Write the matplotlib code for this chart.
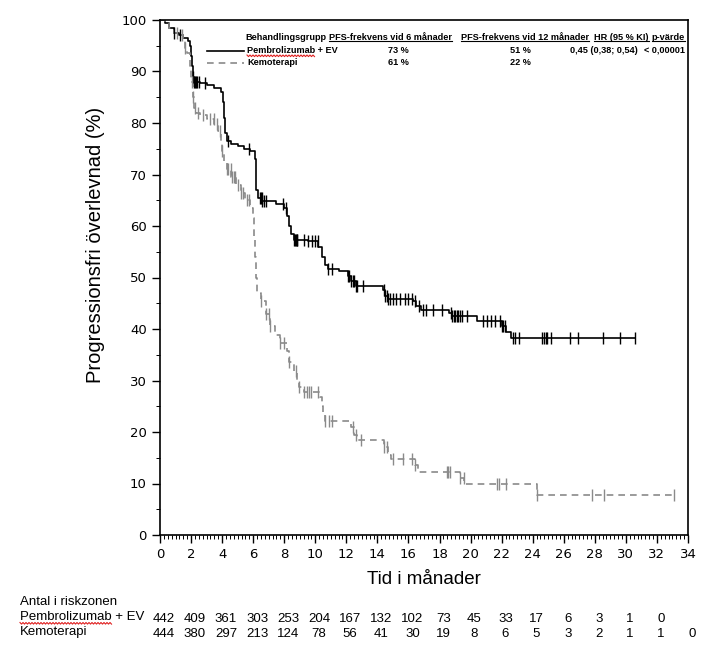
import numpy as np
import matplotlib
matplotlib.use("Agg")
import matplotlib.pyplot as plt
from matplotlib.ticker import MultipleLocator
from matplotlib.lines import Line2D
from matplotlib.transforms import blended_transform_factory

W, H = 717, 649

# Kaplan-Meier steps (time in months, PFS % after the step)
pem_t = [0, 0.3, 0.6, 0.9, 1.2, 1.5, 1.8, 1.95, 2.0, 2.05, 2.1, 2.2, 2.6, 3.0, 3.5, 3.9,
         4.05, 4.1, 4.2, 4.3, 4.6, 5.0, 5.4, 5.8, 6.1, 6.15, 6.2, 6.3, 6.6, 7.5, 8.0, 8.2,
         8.3, 8.45, 8.6, 9.5, 10.2, 10.4, 10.6, 10.8, 11.5, 12.1, 12.3, 12.6, 14.35, 14.5,
         14.7, 16.3, 16.5, 16.8, 18.6, 18.8, 20.4, 22.0, 22.3, 22.6, 30.6]
pem_s = [100, 99.5, 98.5, 97.5, 97, 96.5, 96, 95, 93, 91, 89, 88, 87.7, 87.3, 86.8, 86,
         84, 81, 78, 76.5, 76, 75.5, 75, 74.5, 73, 70, 67, 65.5, 64.8, 64.3, 63.5, 62,
         60, 58.5, 57.3, 57, 56, 54, 52.5, 51.6, 51.2, 50.2, 49.3, 48.3, 47.5, 46.5,
         45.8, 45.5, 44.5, 43.7, 43.2, 42.5, 41.6, 40.6, 39.5, 38.3, 38.3]

kem_t = [0, 0.3, 0.6, 0.9, 1.2, 1.45, 1.6, 1.75, 1.95, 2.0, 2.1, 2.2, 2.3, 2.6, 3.0, 3.5,
         3.75, 3.9, 4.0, 4.15, 4.3, 4.6, 4.9, 5.2, 5.5, 5.8, 6.0, 6.05, 6.1, 6.15, 6.25,
         6.5, 6.8, 7.1, 7.4, 7.7, 8.2, 8.3, 8.6, 8.8, 8.95, 9.3, 10.3, 10.4, 10.5, 10.6,
         12.3, 12.5, 12.7, 14.4, 14.7, 14.9, 16.4, 16.6, 19.3, 19.6, 24.3, 33.1]
kem_s = [100, 99.5, 98.5, 97.5, 97, 96, 94.5, 93.5, 91, 88, 85, 83, 82, 81.5, 80.7, 79.8,
         78.5, 76.5, 74.5, 72.5, 71, 69.5, 68, 66.5, 65, 63.5, 61.5, 58, 54, 50, 47,
         45.5, 43, 40.5, 38.8, 37.2, 35.8, 33.5, 31.8, 30, 28.7, 27.8, 26.8, 25, 23.5, 22.2,
         21, 19.5, 18.4, 17, 15.5, 14.8, 13.5, 12.3, 11, 9.9, 7.8, 7.8]

# censored observations (months)
pem_cens = [0.9, 1.3, 2.15, 2.2, 2.25, 2.3, 2.4, 2.5, 2.9, 4.4, 5.7, 6.45, 6.5, 6.55, 6.6,
            6.7, 6.8, 7.9, 8.1, 8.65, 8.7, 8.75, 8.8, 8.85, 9.3, 9.5, 9.8, 9.95, 10.15, 10.8,
            11.1, 12.1, 12.2, 12.3, 12.4, 12.5, 12.6, 12.7, 13.05, 14.4, 14.5, 14.6, 14.7,
            14.8, 15.0, 15.2, 15.45, 15.75, 16.0, 16.2, 16.4, 16.65, 16.95, 17.15, 17.6,
            18.15, 18.75, 18.8, 18.9, 19.0, 19.1, 19.2, 19.3, 19.45, 19.75, 20.8, 21.05,
            21.3, 21.6, 21.9, 22.0, 22.1, 22.2, 22.7, 22.85, 23.1, 24.6, 24.75, 24.85,
            24.95, 25.2, 26.4, 26.9, 28.5, 29.6, 30.6]
kem_cens = [1.1, 1.4, 1.6, 2.05, 2.15, 2.25, 2.45, 2.8, 3.2, 3.45, 3.7, 3.85, 4.0, 4.3, 4.4,
            4.55, 4.65, 4.75, 4.85, 5.0, 5.2, 5.35, 5.6, 5.75, 6.5, 6.8, 7.0, 7.1, 7.7, 8.0,
            8.3, 8.75, 8.95, 9.3, 9.45, 9.6, 9.7, 10.15, 10.6, 10.9, 11.1, 12.4, 12.65,
            12.95, 14.45, 14.6, 15.0, 15.65, 16.2, 16.4, 18.45, 18.55, 18.65, 19.35, 19.55,
            21.7, 21.8, 22.25, 24.3, 27.85, 28.6, 33.1]

risk_months = list(range(0, 35, 2))
pem_risk = [442, 409, 361, 303, 253, 204, 167, 132, 102, 73, 45, 33, 17, 6, 3, 1, 0]
kem_risk = [444, 380, 297, 213, 124, 78, 56, 41, 30, 19, 8, 6, 5, 3, 2, 1, 1, 0]

header = ["Behandlingsgrupp", "PFS-frekvens vid 6 månader", "PFS-frekvens vid 12 månader",
          "HR (95 % KI)", "p-värde"]
pem_row = ["Pembrolizumab + EV", "73 %", "51 %", "0,45 (0,38; 0,54)", "< 0,00001"]
kem_row = ["Kemoterapi", "61 %", "22 %"]

BLACK = "black"
GREY = "#8a8a8a"
ARIAL = ["Liberation Sans", "DejaVu Sans"]


def fx(x):
    return x / W


def fy(y):
    return 1 - y / H


def step_value(ts, ss, c):
    i = np.searchsorted(ts, c, side="right") - 1
    return np.asarray(ss)[i]


def squiggle(fig, x0, x1, y):
    xs = np.arange(x0, x1 + 0.1, 1.5)
    ys = y + np.where(np.arange(len(xs)) % 2 == 0, 0.0, 1.6)
    fig.add_artist(Line2D(fx(xs), fy(ys), color="#e02020", lw=0.8))


fig = plt.figure(figsize=(W / 100, H / 100), dpi=100)
ax = fig.add_axes([fx(160), fy(535), fx(688) - fx(160), fy(20) - fy(535)])

ax.step(pem_t, pem_s, where="post", color=BLACK, lw=1.2)
ax.step(kem_t, kem_s, where="post", color=GREY, lw=1.2, ls=(0, (4, 3)))
ax.plot(pem_cens, step_value(pem_t, pem_s, pem_cens), ls="none", marker="|",
        ms=8.5, mew=1.0, color=BLACK)
ax.plot(kem_cens, step_value(kem_t, kem_s, kem_cens), ls="none", marker="|",
        ms=8.5, mew=1.0, color=GREY)

ax.set_xlim(0, 34)
ax.set_ylim(0, 100)
ax.xaxis.set_major_locator(MultipleLocator(2))
ax.xaxis.set_minor_locator(MultipleLocator(0.25))
ax.yaxis.set_major_locator(MultipleLocator(10))
ax.yaxis.set_minor_locator(MultipleLocator(5))
ax.tick_params(which="major", direction="out", length=6, width=1, labelsize=9.5)
ax.tick_params(which="minor", direction="out", length=3, width=0.7)
for sp in ax.spines.values():
    sp.set_linewidth(1.2)
ax.set_xlabel("Tid i månader", family=ARIAL, fontsize=13.5, labelpad=7)
ax.set_ylabel("Progressionsfri överlevnad (%)", family=ARIAL, fontsize=14.5)
ax.yaxis.set_label_coords(-0.105, 0.563)

# legend table
tp = dict(family=ARIAL, fontsize=6.6, weight="bold", va="center")
header_texts = [fig.text(fx(245), fy(37), header[0], ha="left", **tp),
                fig.text(fx(329), fy(37), header[1], ha="left", **tp),
                fig.text(fx(461), fy(37), header[2], ha="left", **tp),
                fig.text(fx(594), fy(37), header[3], ha="left", **tp),
                fig.text(fx(685), fy(37), header[4], ha="right", **tp)]
pem_texts = [fig.text(fx(247), fy(50.5), pem_row[0], ha="left", **tp),
             fig.text(fx(388), fy(50.5), pem_row[1], ha="left", **tp),
             fig.text(fx(510), fy(50.5), pem_row[2], ha="left", **tp),
             fig.text(fx(570), fy(50.5), pem_row[3], ha="left", **tp),
             fig.text(fx(685), fy(50.5), pem_row[4], ha="right", **tp)]
for x, s in zip([247, 388, 510], kem_row):
    fig.text(fx(x), fy(62.5), s, ha="left", **tp)
fig.add_artist(Line2D([fx(207), fx(244)], [fy(50.5), fy(50.5)], color=BLACK, lw=1.2))
fig.add_artist(Line2D([fx(207), fx(244)], [fy(62.5), fy(62.5)], color=GREY, lw=1.2,
                      ls=(0, (4, 3))))

# risk table
rp = dict(family=ARIAL, fontsize=9.5, va="center")
fig.text(fx(20), fy(602), "Antal i riskzonen", ha="left", **rp)
pem_lab = fig.text(fx(20), fy(617), "Pembrolizumab + EV", ha="left", **rp)
fig.text(fx(20), fy(632), "Kemoterapi", ha="left", **rp)
tr = blended_transform_factory(ax.transData, fig.transFigure)
for m, n in zip(risk_months, pem_risk):
    ax.text(m + 0.25, fy(619), str(n), transform=tr, ha="center", **rp)
for m, n in zip(risk_months, kem_risk):
    ax.text(m + 0.25, fy(634), str(n), transform=tr, ha="center", **rp)

# underline header columns and mark the spell-check squiggles
fig.canvas.draw()
r = fig.canvas.get_renderer()
for t in header_texts[1:]:
    bb = t.get_window_extent(r)
    fig.add_artist(Line2D([bb.x0 / W, bb.x1 / W], [(bb.y0 + 0.5) / H] * 2, color=BLACK, lw=0.8))
for t, yy in [(pem_texts[0], 55), (pem_lab, 622.5)]:
    tmp = fig.text(*t.get_position(), "Pembrolizumab", fontproperties=t.get_fontproperties(),
                   va="center", ha="left")
    bb = tmp.get_window_extent(r)
    tmp.remove()
    squiggle(fig, bb.x0, bb.x1, yy)

fig.savefig("out.png", dpi=100)
